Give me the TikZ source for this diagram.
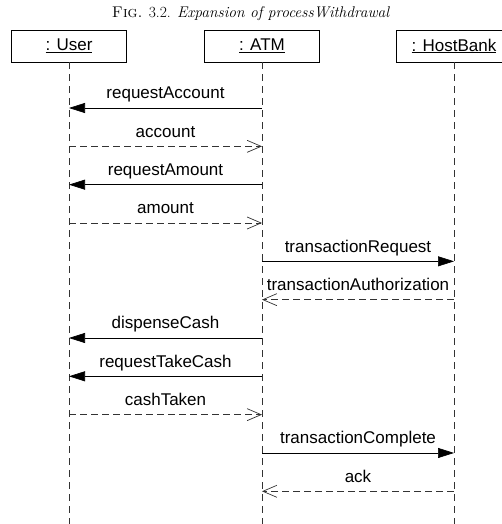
\documentclass[tikz,border=0pt]{standalone}
\usepackage{fontspec}
\newfontfamily\umlfont{Liberation Sans}
\usetikzlibrary{arrows.meta}

\tikzset{
  objbox/.style={draw, line width=0.8pt, minimum width=115pt, minimum height=32pt,
    inner sep=0pt, font=\umlfont\fontsize{17pt}{17pt}\selectfont},
  lifeline/.style={black!80, line width=0.7pt, dash pattern=on 7pt off 5pt},
  callmsg/.style={-{Triangle[length=16pt,width=10pt]}, line width=0.7pt},
  replymsg/.style={-{Straight Barb[length=14pt,width=12pt]}, line width=0.7pt,
    black!80, dash pattern=on 7pt off 4pt},
  msglabel/.style={black, anchor=base, yshift=9pt, inner sep=0pt,
    font=\umlfont\fontsize{17pt}{17pt}\selectfont}
}

\begin{document}
\begin{tikzpicture}[x=1pt, y=-1pt]
	\def\ytop{108}     % first message
	\def\ystep{38.33}  % message spacing
\useasboundingbox (0,0) rectangle (502,524);

\node[anchor=base, font=\fontsize{15.5pt}{18pt}\selectfont] (caption) at (251,18)
  {\textsc{Fig.} 3.2. \textit{Expansion of processWithdrawal}};

% objects
\node[objbox] (user) at (69,46) {\underline{: User}};
\node[objbox] (atm) at (262,46) {\underline{: ATM}};
\node[objbox] (bank) at (454,46) {\underline{: HostBank}};

% lifelines
\coordinate (userend) at (user.south |- 0,524);
\coordinate (atmend) at (atm.south |- 0,524);
\coordinate (bankend) at (bank.south |- 0,524);
\draw[lifeline] (user.south) -- (userend);
\draw[lifeline] (atm.south) -- (atmend);
\draw[lifeline] (bank.south) -- (bankend);

% message points on each lifeline
\foreach \i in {1,...,11} {
  \pgfmathsetmacro\y{\ytop+\ystep*(\i-1)}
  \coordinate (u\i) at (user.south |- 0,\y);
  \coordinate (a\i) at (atm.south |- 0,\y);
  \coordinate (b\i) at (bank.south |- 0,\y);
}

% ATM <-> User
\draw[callmsg] (a1) -- (u1) node[msglabel, midway] {requestAccount};
\draw[replymsg] (u2) -- (a2) node[msglabel, midway] {account};
\draw[callmsg] (a3) -- (u3) node[msglabel, midway] {requestAmount};
\draw[replymsg] (u4) -- (a4) node[msglabel, midway] {amount};

% ATM <-> HostBank
\draw[callmsg] (a5) -- (b5) node[msglabel, midway] {transactionRequest};
\draw[replymsg] (b6) -- (a6) node[msglabel, midway] {transactionAuthorization};

% cash
\draw[callmsg] (a7) -- (u7) node[msglabel, midway] {dispenseCash};
\draw[callmsg] (a8) -- (u8) node[msglabel, midway] {requestTakeCash};
\draw[replymsg] (u9) -- (a9) node[msglabel, midway] {cashTaken};

% completion
\draw[callmsg] (a10) -- (b10) node[msglabel, midway] {transactionComplete};
\draw[replymsg] (b11) -- (a11) node[msglabel, midway] {ack};

\end{tikzpicture}
\end{document}
